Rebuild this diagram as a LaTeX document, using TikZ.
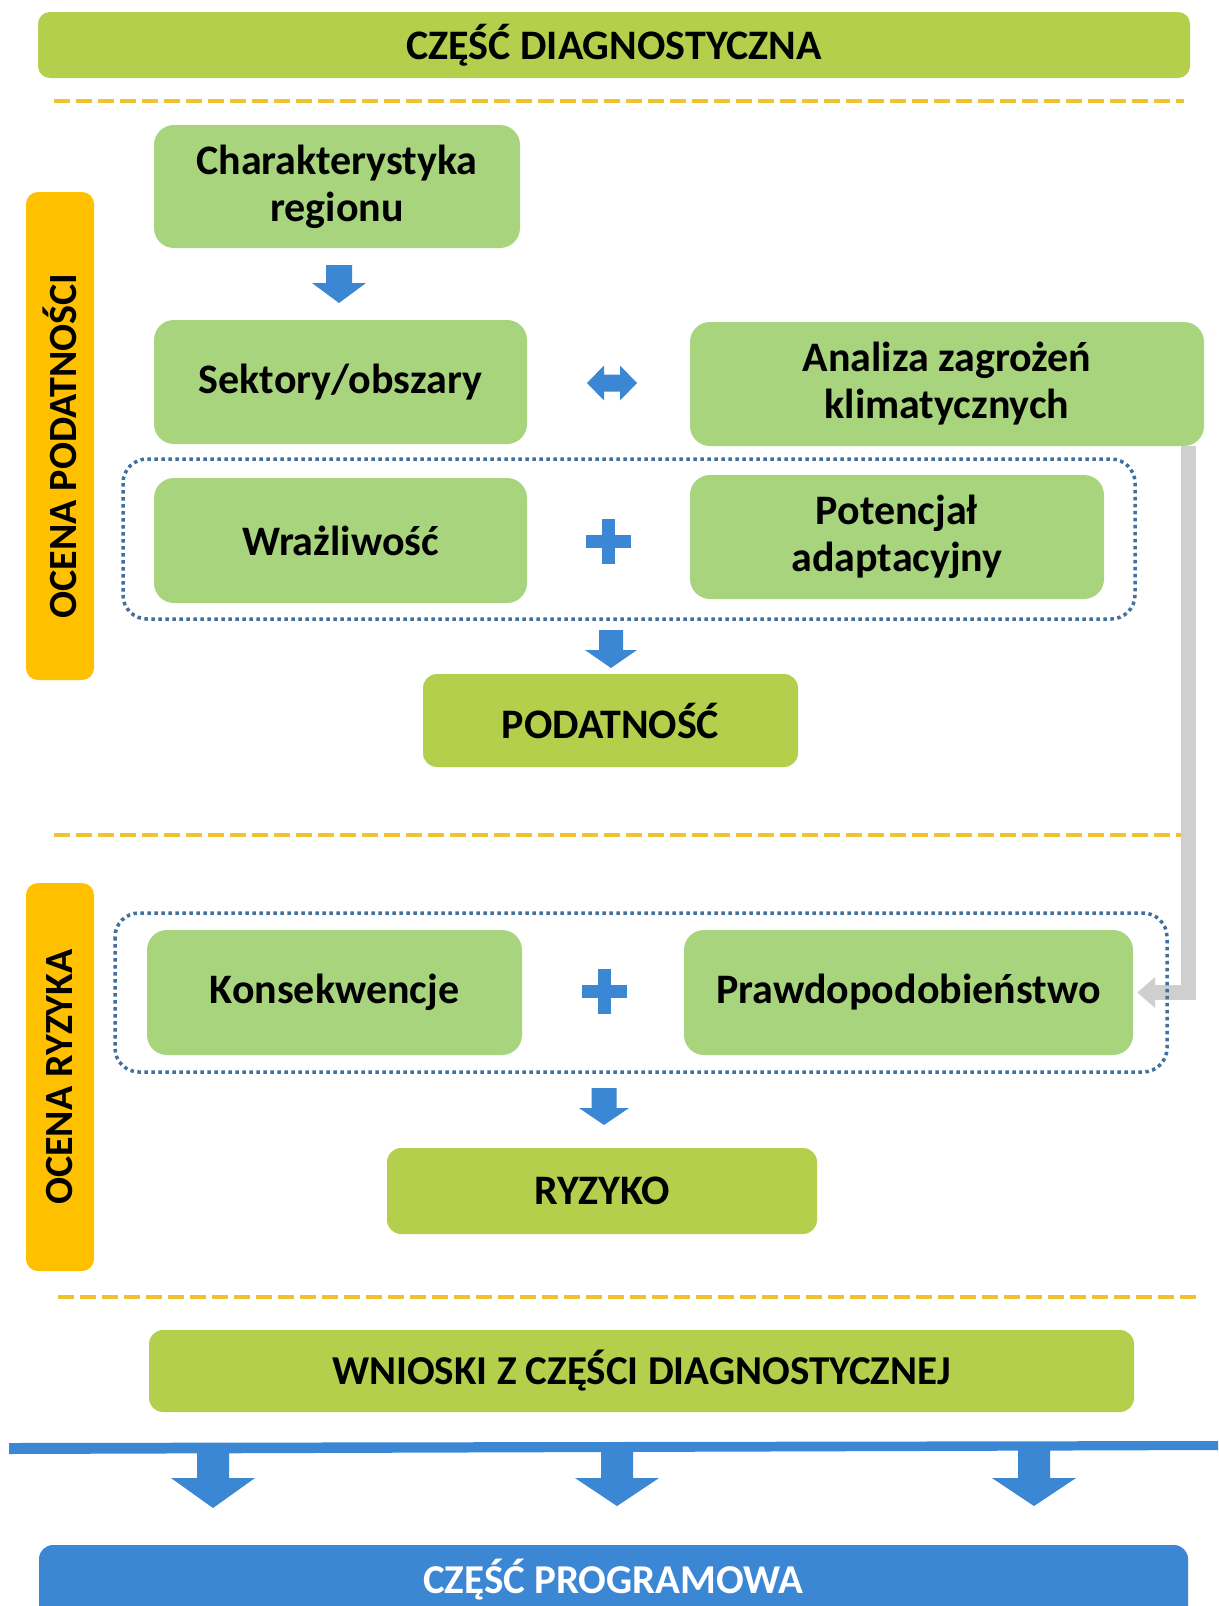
\documentclass[tikz,border=0pt]{standalone}
\usepackage{fontspec}
\setmainfont{Carlito}
\usetikzlibrary{arrows.meta,calc}
\definecolor{lgreen}{HTML}{A9D47E}
\definecolor{dgreen}{HTML}{B4CF4C}
\definecolor{orng}{HTML}{FFC000}
\definecolor{bblue}{HTML}{3B87D4}
\definecolor{dotc}{HTML}{41709F}
\definecolor{dashc}{HTML}{F2C12E}
\definecolor{gconn}{HTML}{CFCFCF}
\tikzset{
  box/.style={rounded corners=20pt, inner sep=0pt, align=center,
    font=\fontsize{42}{47}\selectfont\bfseries, text=black},
  lbox/.style={box, fill=lgreen},
  dbox/.style={box, fill=dgreen},
  sidebar/.style={fill=orng, rounded corners=12pt, inner sep=0pt},
  sidetext/.style={rotate=90, font=\fontsize{40}{44}\selectfont\bfseries, text=black},
  dotbox/.style={draw=dotc, line width=3.5pt, dash pattern=on 3.5pt off 3.5pt, rounded corners=24pt},
  sepline/.style={draw=dashc, line width=4.5pt, dash pattern=on 16pt off 6pt},
  blk/.style={fill=bblue},
  conn/.style={draw=gconn, line width=15pt, line join=miter, -{Triangle[length=18pt,width=30pt]}}
}
\newcommand{\downarr}[6]{%
  \fill[blk] ({#1-#3},{#2}) -- ({#1+#3},{#2}) -- ({#1+#3},{#5}) -- ({#1+#4},{#5})
    -- ({#1},{#6}) -- ({#1-#4},{#5}) -- ({#1-#3},{#5}) -- cycle;}
\newcommand{\plussign}[4]{% cx cy halfsize halfthick
  \fill[blk] ({#1-#4},{#2-#3}) rectangle ({#1+#4},{#2+#3});
  \fill[blk] ({#1-#3},{#2-#4}) rectangle ({#1+#3},{#2+#4});}
\begin{document}
\begin{tikzpicture}[x=1pt, y=-1pt]
\useasboundingbox (0,0) rectangle (1218,1606);
\fill[white] (0,0) rectangle (1218,1606);

% header
\node[dbox, rounded corners=12pt, font=\fontsize{42}{46}\selectfont\bfseries,
  minimum width=1152pt, minimum height=66pt] (top) at (614,45) {CZĘŚĆ DIAGNOSTYCZNA};

% separator lines
\draw[sepline] (54,101) -- (1184,101);
\draw[sepline] (54,835) -- (1184,835);
\draw[sepline] (58,1297) -- (1196,1297);

% side bars
\node[sidebar, minimum width=68pt, minimum height=488pt] (bar1) at (60,436) {};
\node[sidetext] (bar1t) at (60,446) {OCENA PODATNOŚCI};
\node[sidebar, minimum width=68pt, minimum height=388pt] (bar2) at (60,1077) {};
\node[sidetext] (bar2t) at (60,1077) {OCENA RYZYKA};

% green boxes
\node[lbox, minimum width=366pt, minimum height=123pt] (char) at (337,186.5) {Charakterystyka\\regionu};
\node[lbox, minimum width=373pt, minimum height=124pt] (sekt) at (340.5,382) {Sektory/obszary};
\node[lbox, minimum width=514pt, minimum height=124pt] (anal) at (947,384) {Analiza zagrożeń\\klimatycznych};

\node[lbox, minimum width=373pt, minimum height=125pt] (wraz) at (340.5,540.5) {Wrażliwość};
\node[lbox, minimum width=414pt, minimum height=124pt] (pot) at (897,537) {Potencjał\\adaptacyjny};
\node[dbox, rounded corners=14pt, minimum width=375pt, minimum height=93pt] (pod) at (610.5,720.5) {PODATNOŚĆ};

\node[lbox, minimum width=375pt, minimum height=125pt] (kons) at (334.5,992.5) {Konsekwencje};
\node[lbox, minimum width=449pt, minimum height=125pt] (praw) at (908.5,992.5) {Prawdopodobieństwo};
\node[dbox, rounded corners=14pt, minimum width=430pt, minimum height=86pt] (ryz) at (602,1191) {RYZYKO};

\node[dbox, rounded corners=14pt, font=\fontsize{41}{46}\selectfont\bfseries,
  minimum width=985pt, minimum height=82pt] (wn) at (641.5,1371) {WNIOSKI Z CZĘŚCI DIAGNOSTYCZNEJ};

% grey connector
\draw[conn] ([xshift=-15.5pt]anal.south east) -- ([xshift=-15.5pt]anal.south east |- praw.east)
  -- ([xshift=4pt]praw.east);

% dotted frames
\draw[dotbox] (123,459) rectangle (1135,619);
\draw[dotbox] (115,913) rectangle (1167,1072);

% block arrows
\downarr{339}{265}{13}{27}{283}{303}
\downarr{611}{630}{12}{26}{650}{668}
\downarr{604}{1088}{12.5}{25}{1108}{1125}
\plussign{608}{541}{22.5}{6.5}
\plussign{604}{991}{22.5}{6.5}
\fill[blk] (587,383) -- (604,365.5) -- (604,374.5) -- (620,374.5) -- (620,365.5) -- (637,383)
  -- (620,400.5) -- (620,391.5) -- (604,391.5) -- (604,400.5) -- cycle;

% blue distribution line
\fill[blk] (9,1443) -- (1218,1441) -- (1218,1450) -- (9,1454) -- cycle;
\downarr{213}{1450}{16}{42}{1478}{1508}
\downarr{617}{1450}{16}{42}{1478}{1506}
\downarr{1034}{1450}{16}{42}{1478}{1506}

% programme part
\begin{scope}
\clip (0,0) rectangle (1218,1606);
\node[box, fill=bblue, rounded corners=14pt, minimum width=1149pt, minimum height=110pt] (prog) at (613.5,1600) {};
\end{scope}
\node[font=\fontsize{41}{46}\selectfont\bfseries, text=white] (progt) at (613.5,1580) {CZĘŚĆ PROGRAMOWA};
\end{tikzpicture}
\end{document}
